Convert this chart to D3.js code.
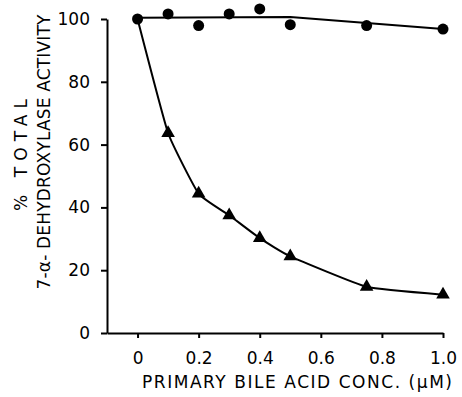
<!DOCTYPE html>
<html>
<head>
<meta charset="utf-8">
<script src="https://cdn.jsdelivr.net/npm/d3@7"></script>
<style>
  body { margin: 0; background: #fff; }
  svg { display: block; font-family: "DejaVu Sans", "Liberation Sans", sans-serif; }
</style>
</head>
<body>
<script>
// control (circles)
const circleX = [0, 0.1, 0.2, 0.3, 0.4, 0.5, 0.75, 1.0];
const circleY = [100, 101.6, 97.9, 101.6, 103.2, 98.2, 97.9, 96.8];
// fitted line through the circles
const circleFitX = [0, 0.5, 1.0];
const circleFitY = [100.4, 100.6, 96.8];
// primary bile acid (triangles)
const triX = [0, 0.1, 0.2, 0.3, 0.4, 0.5, 0.75, 1.0];
const triY = [100, 63.7, 44.4, 37.5, 30.2, 24.4, 14.7, 12.2];

const xTicks = [0, 0.2, 0.4, 0.6, 0.8, 1.0];
const yTicks = [0, 20, 40, 60, 80, 100];

const width = 462;
const height = 397;

const svg = d3
  .select("body")
  .append("svg")
  .attr("width", width)
  .attr("height", height);

const xScale = d3.scaleLinear().domain([-0.1, 1.0]).range([107, 443]);
const yScale = d3.scaleLinear().domain([0, 100]).range([333, 19]);

// X axis
const xAxis = d3
  .axisBottom(xScale)
  .tickValues(xTicks)
  .tickSize(5)
  .tickSizeOuter(0)
  .tickPadding(14)
  .tickFormat((d) => (d === 0 ? "0" : d3.format(".1f")(d)));

const gx = svg
  .append("g")
  .attr("transform", `translate(0, ${yScale(0)})`)
  .call(xAxis);
gx.selectAll("path, line").attr("stroke", "#000").attr("stroke-width", 2);
gx.selectAll("text")
  .style("font-size", "17px")
  .style("font-family", "DejaVu Sans")
  .attr("fill", "#000");

// Y axis
const yAxis = d3
  .axisLeft(yScale)
  .tickValues(yTicks)
  .tickSize(6)
  .tickSizeOuter(0)
  .tickPadding(11);

const gy = svg
  .append("g")
  .attr("transform", `translate(${xScale(-0.1)}, 0)`)
  .call(yAxis);
gy.selectAll("path, line").attr("stroke", "#000").attr("stroke-width", 2);
gy.selectAll("text")
  .style("font-size", "17px")
  .style("font-family", "DejaVu Sans")
  .attr("fill", "#000");

// axis titles
svg
  .append("text")
  .attr("x", 297)
  .attr("y", 388)
  .attr("text-anchor", "middle")
  .attr("textLength", 310)
  .attr("lengthAdjust", "spacing")
  .style("font-size", "17px")
  .text("PRIMARY BILE ACID CONC. (\u03BCM)");

svg
  .append("text")
  .attr("transform", "translate(27, 155) rotate(-90)")
  .attr("text-anchor", "middle")
  .attr("textLength", 112)
  .attr("lengthAdjust", "spacing")
  .style("font-size", "17px")
  .text("% TOTAL");

svg
  .append("text")
  .attr("transform", "translate(50, 152) rotate(-90)")
  .attr("text-anchor", "middle")
  .attr("textLength", 275)
  .attr("lengthAdjust", "spacing")
  .style("font-size", "17px")
  .text("7-\u03B1- DEHYDROXYLASE ACTIVITY");

// lines
const fitLine = d3
  .line()
  .x((d) => xScale(d[0]))
  .y((d) => yScale(d[1]));

svg
  .append("path")
  .datum(d3.zip(circleFitX, circleFitY))
  .attr("d", fitLine)
  .attr("fill", "none")
  .attr("stroke", "#000")
  .attr("stroke-width", 2);

const curveLine = d3
  .line()
  .x((d) => xScale(d[0]))
  .y((d) => yScale(d[1]))
  .curve(d3.curveCardinal.tension(0.6));

svg
  .append("path")
  .datum(d3.zip(triX, triY))
  .attr("d", curveLine)
  .attr("fill", "none")
  .attr("stroke", "#000")
  .attr("stroke-width", 2);

// markers
svg
  .selectAll(".dot")
  .data(d3.zip(circleX, circleY))
  .enter()
  .append("circle")
  .attr("class", "dot")
  .attr("cx", (d) => xScale(d[0]))
  .attr("cy", (d) => yScale(d[1]))
  .attr("r", 5.5)
  .attr("fill", "#000");

const triSymbol = d3.symbol().type(d3.symbolTriangle).size(80);

svg
  .selectAll(".tri")
  .data(d3.zip(triX, triY).slice(1))
  .enter()
  .append("path")
  .attr("class", "tri")
  .attr("transform", (d) => `translate(${xScale(d[0])}, ${yScale(d[1])})`)
  .attr("d", triSymbol)
  .attr("fill", "#000");
</script>
</body>
</html>
